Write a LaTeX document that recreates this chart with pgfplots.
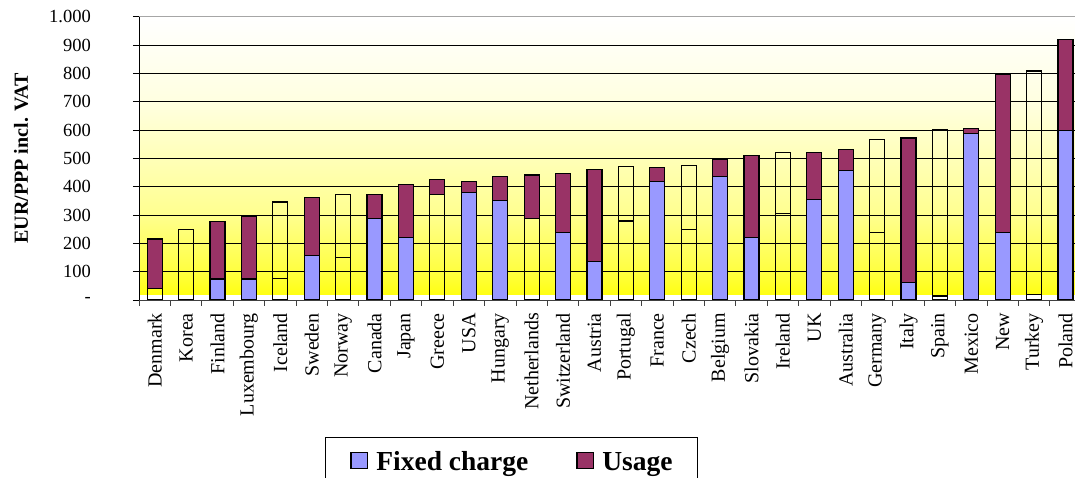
\documentclass[border=0pt]{standalone}
\usepackage{fontspec}
\setmainfont{Liberation Serif}
\usepackage{pgfplots}
\pgfplotsset{compat=1.18}
\definecolor{fixc}{HTML}{9999FF}
\definecolor{usec}{HTML}{993366}
\begin{document}
\begin{tikzpicture}
% plot-area background gradient (axis is 936pt x 283.3pt at the origin)
\fill[bottom color=yellow!92!white, top color=yellow!75!white] (0pt,5.95pt) rectangle (936pt,28.33pt);
\fill[bottom color=yellow!75!white, top color=yellow!44!white] (0pt,28.33pt) rectangle (936pt,85pt);
\fill[bottom color=yellow!44!white, top color=yellow!28!white] (0pt,85pt) rectangle (936pt,141.65pt);
\fill[bottom color=yellow!28!white, top color=yellow!12!white] (0pt,141.65pt) rectangle (936pt,198.3pt);
\fill[bottom color=yellow!12!white, top color=white] (0pt,198.3pt) rectangle (936pt,283.3pt);
\begin{axis}[
  scale only axis, width=936pt, height=283.3pt,
  at={(0,0)}, anchor=south west,
  ybar stacked, bar width=15pt,
  xmin=-0.5, xmax=29.3, ymin=0, ymax=1000,
  axis x line=bottom, axis y line=left,
  axis line style={-, line width=0.8pt},
  x axis line style={black!75},
  tick align=outside,
  major tick length=6pt, minor tick length=6pt,
  ytick={0,100,...,900},
  yticklabels={-,100,200,300,400,500,600,700,800,900},
  extra y ticks={1000}, extra y tick labels={1.000},
  extra y tick style={grid style={gray!70, line width=0.9pt}},
  ymajorgrids, grid style={black, line width=0.7pt},
  ytick style={black, line width=0.8pt},
  yticklabel style={font=\fontsize{18.5}{22}\selectfont, inner sep=0pt},
  yticklabel shift=42pt,
  xtick={0,...,29},
  xticklabels={Denmark,Korea,Finland,Luxembourg,Iceland,Sweden,Norway,Canada,Japan,Greece,USA,Hungary,Netherlands,Switzerland,Austria,Portugal,France,Czech,Belgium,Slovakia,Ireland,UK,Australia,Germany,Italy,Spain,Mexico,New,Turkey,Poland},
  major x tick style={draw=none},
  minor xtick={-0.5,0.5,...,28.5},
  minor x tick style={black!75, line width=0.8pt},
  xticklabel style={rotate=90, anchor=east, inner sep=0pt, font=\fontsize{20}{24}\selectfont},
  xticklabel shift=7pt,
  ylabel={EUR/PPP incl. VAT},
  every axis y label/.style={at={(axis description cs:-0.1261,0.5)}, rotate=90, anchor=center,
    font=\bfseries\fontsize{20}{24}\selectfont},
  legend image code/.code={\draw[#1] (0pt,1.7pt) rectangle (16.7pt,18.3pt);},
  legend columns=2,
  legend style={at={(axis description cs:0.1987,-0.4836)}, anchor=north west,
    draw=black, line width=1pt, fill=white, inner xsep=25pt, inner ysep=14pt,
    font=\bfseries\fontsize{27.5}{33}\selectfont,
    nodes={inner sep=0pt, anchor=base}, column sep=0pt,
    /tikz/every odd column/.append style={column sep=8pt},
    /tikz/every even column/.append style={column sep=48pt}},
]
% fixed charge (filled)
\addplot[fill=fixc, draw=black, line width=1.2pt] coordinates {
(0,0) (1,0) (2,74) (3,74) (4,0) (5,158) (6,0) (7,288) (8,220) (9,0)
(10,379) (11,350) (12,0) (13,238) (14,135) (15,0) (16,418) (17,0) (18,435) (19,220)
(20,0) (21,356) (22,458) (23,0) (24,61) (25,0) (26,587) (27,238) (28,0) (29,599)};
\addlegendentry{Fixed charge}
% fixed charge (no fill)
\addplot[fill=none, draw=black, line width=1.2pt, forget plot] coordinates {
(0,40) (1,0) (2,0) (3,0) (4,76) (5,0) (6,149) (7,0) (8,0) (9,373)
(10,0) (11,0) (12,288) (13,0) (14,0) (15,279) (16,0) (17,249) (18,0) (19,0)
(20,306) (21,0) (22,0) (23,238) (24,0) (25,14) (26,0) (27,0) (28,19) (29,0)};
% usage (filled)
\addplot[fill=usec, draw=black, line width=1.2pt] coordinates {
(0,175) (1,0) (2,204) (3,220) (4,0) (5,203) (6,0) (7,85) (8,188) (9,51)
(10,39) (11,85) (12,153) (13,209) (14,327) (15,0) (16,51) (17,0) (18,62) (19,289)
(20,0) (21,164) (22,73) (23,0) (24,511) (25,0) (26,19) (27,558) (28,0) (29,321)};
\addlegendentry{Usage}
% usage (no fill)
\addplot[fill=none, draw=black, line width=1.2pt, forget plot] coordinates {
(0,0) (1,250) (2,0) (3,0) (4,270) (5,0) (6,224) (7,0) (8,0) (9,0)
(10,0) (11,0) (12,0) (13,0) (14,0) (15,192) (16,0) (17,226) (18,0) (19,0)
(20,214) (21,0) (22,0) (23,328) (24,0) (25,586) (26,0) (27,0) (28,789) (29,0)};
\end{axis}
\pgfresetboundingbox
\path[use as bounding box] (-139pt,-178pt) rectangle (936pt,300pt);
\end{tikzpicture}
\end{document}
